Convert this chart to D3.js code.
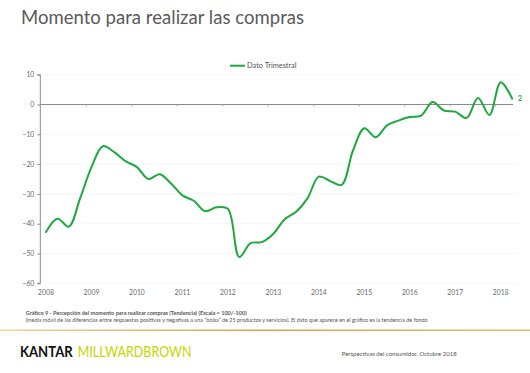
<!DOCTYPE html>
<html>
<head>
<meta charset="utf-8">
<script src="https://cdn.jsdelivr.net/npm/d3@7"></script>
<style>
  html, body { margin: 0; padding: 0; background: #fff; }
  svg { display: block; }
  text { font-family: Lato, "Noto Sans", sans-serif; }
</style>
</head>
<body>
<svg id="chart" width="530" height="373"></svg>
<script>
// ---- Data ----
const years = ["2008","2009","2010","2011","2012","2013","2014","2015","2016","2017","2018"];
const quarters = ["T1","T2","T3","T4"];
const seriesName = "Dato Trimestral";
const values = [
  -42.8, -38.3, -41.0, -31.5,   // 2008
  -21.0, -14.0, -16.0, -19.0,   // 2009
  -21.0, -25.0, -23.4, -26.5,   // 2010
  -30.5, -32.3, -35.8, -34.5,   // 2011
  -35.0, -51.2, -46.5, -46.2,   // 2012
  -43.4, -38.5, -36.0, -31.5,   // 2013
  -24.2, -25.7, -27.0, -15.5,   // 2014
   -8.0, -11.0,  -7.0,  -5.4,   // 2015
   -4.2,  -3.7,   0.8,  -2.0,   // 2016
   -2.4,  -4.5,   2.2,  -3.5,   // 2017
    7.5,   2.0                  // 2018
];
const lastLabel = "2";
const yTicks = [10, 0, -10, -20, -30, -40, -50, -60];

const title = "Momento para realizar las compras";
const note1 = "Gráfico 9 - Percepción del momento para realizar compras (Tendencia) (Escala = 100/-100)";
const note2 = "(media móvil de las diferencias entre respuestas positivas y negativas a una \u201Cbolsa\u201D de 25 productos y servicios). El dato que aparece en el gráfico es la tendencia de fondo";
const footerRight = "Perspectivas del consumidor. Octubre 2018";

// ---- Layout ----
const svg = d3.select("#chart");
const green = "#1fa83f";

const x = d3.scaleLinear().domain([0, values.length - 1]).range([46, 512.1]);
const y = d3.scaleLinear().domain([-60, 10]).range([283.3, 74.7]);
const x0 = x(-0.5), x1 = 513;

// Title
svg.append("text").attr("x", 21).attr("y", 24)
  .attr("font-size", 18.5).attr("fill", "#5a5a5a")
  .attr("textLength", 283).attr("lengthAdjust", "spacing")
  .text(title);

// Legend
svg.append("line").attr("x1", 230).attr("x2", 245).attr("y1", 65.7).attr("y2", 65.7)
  .attr("stroke", green).attr("stroke-width", 2);
svg.append("text").attr("x", 247).attr("y", 68.3).attr("font-size", 7.4)
  .attr("fill", "#555").text(seriesName);

// Faint gridlines
svg.append("g").selectAll("line").data(yTicks.filter(d => d !== 0)).join("line")
  .attr("x1", x0).attr("x2", 518).attr("y1", d => y(d)).attr("y2", d => y(d))
  .attr("stroke", "#f4f4f4").attr("stroke-width", 0.8);

// Y axis
const yAxis = d3.axisLeft(y).tickValues(yTicks).tickSize(3).tickPadding(3)
  .tickFormat(d3.format("d"));
const gy = svg.append("g").attr("transform", `translate(${x0},0)`).call(yAxis);
gy.select(".domain").attr("stroke", "#8a8a8a").attr("stroke-width", 1)
  .attr("d", `M-3,${y(10)}H0V${y(-60)}H-3`);
gy.selectAll(".tick line").attr("stroke", "#8a8a8a");
gy.selectAll(".tick text").attr("fill", "#6a6a6a").attr("font-size", 6.8)
  .attr("font-family", "Lato, 'Noto Sans', sans-serif");

// Zero line with year-boundary ticks
const xAxis = d3.axisBottom(x)
  .tickValues(d3.range(0, years.length).map(i => i * 4 - 0.5).filter(v => v > 0))
  .tickSize(2).tickFormat("");
const gx = svg.append("g").attr("transform", `translate(0,${y(0)})`).call(xAxis);
gx.select(".domain").attr("stroke", "#8a8a8a").attr("stroke-width", 1)
  .attr("d", `M${x0},0H${x1}`);
gx.selectAll(".tick line").attr("stroke", "#aaa");

// Year labels
svg.append("g").selectAll("text").data(years).join("text")
  .attr("x", (d, i) => x(i * 4)).attr("y", 295)
  .attr("text-anchor", "middle").attr("font-size", 6.8).attr("fill", "#6a6a6a")
  .text(d => d);

// Line
const line = d3.line()
  .x((d, i) => x(i)).y(d => y(d))
  .curve(d3.curveCatmullRom.alpha(0.5));
svg.append("path").datum(values).attr("d", line)
  .attr("fill", "none").attr("stroke", green).attr("stroke-width", 2)
  .attr("stroke-linejoin", "round").attr("stroke-linecap", "round");

// Last value label
svg.append("text").attr("x", x(values.length - 1) + 6).attr("y", y(values[values.length - 1]) + 2.5)
  .attr("font-size", 7).attr("font-weight", "bold").attr("fill", green).text(lastLabel);

// Notes
svg.append("text").attr("x", 25.7).attr("y", 315).attr("font-size", 5.6)
  .attr("font-weight", "bold").attr("fill", "#555")
  .attr("textLength", 221).attr("lengthAdjust", "spacingAndGlyphs").text(note1);
svg.append("text").attr("x", 25.7).attr("y", 321.8).attr("font-size", 5.6)
  .attr("fill", "#555")
  .attr("textLength", 402).attr("lengthAdjust", "spacingAndGlyphs").text(note2);

// Gold rule
const defs = svg.append("defs");
const grad = defs.append("linearGradient").attr("id", "gold").attr("x1", "0").attr("x2", "1");
grad.append("stop").attr("offset", "0").attr("stop-color", "#e6d6a4");
grad.append("stop").attr("offset", "0.5").attr("stop-color", "#caa95a");
grad.append("stop").attr("offset", "1").attr("stop-color", "#d8bf7c");
svg.append("rect").attr("x", 0).attr("y", 329.5).attr("width", 530).attr("height", 1.6)
  .attr("fill", "url(#gold)");

// Logo
svg.append("text").attr("x", 20).attr("y", 356.5).attr("font-size", 15.5)
  .attr("font-family", "'Noto Sans', Lato, sans-serif").attr("font-weight", "bold")
  .attr("fill", "#111").attr("textLength", 52.7).attr("lengthAdjust", "spacingAndGlyphs")
  .text("KANTAR");
svg.append("text").attr("x", 77.7).attr("y", 356.5).attr("font-size", 15.5)
  .attr("font-family", "'Noto Sans', Lato, sans-serif").attr("font-weight", "normal")
  .attr("fill", "#c4d600").attr("textLength", 114).attr("lengthAdjust", "spacingAndGlyphs")
  .text("MILLWARDBROWN");

// Footer right
svg.append("text").attr("x", 341.7).attr("y", 355.5).attr("font-size", 5.9)
  .attr("fill", "#555").attr("textLength", 115).attr("lengthAdjust", "spacingAndGlyphs")
  .text(footerRight);
</script>
</body>
</html>
